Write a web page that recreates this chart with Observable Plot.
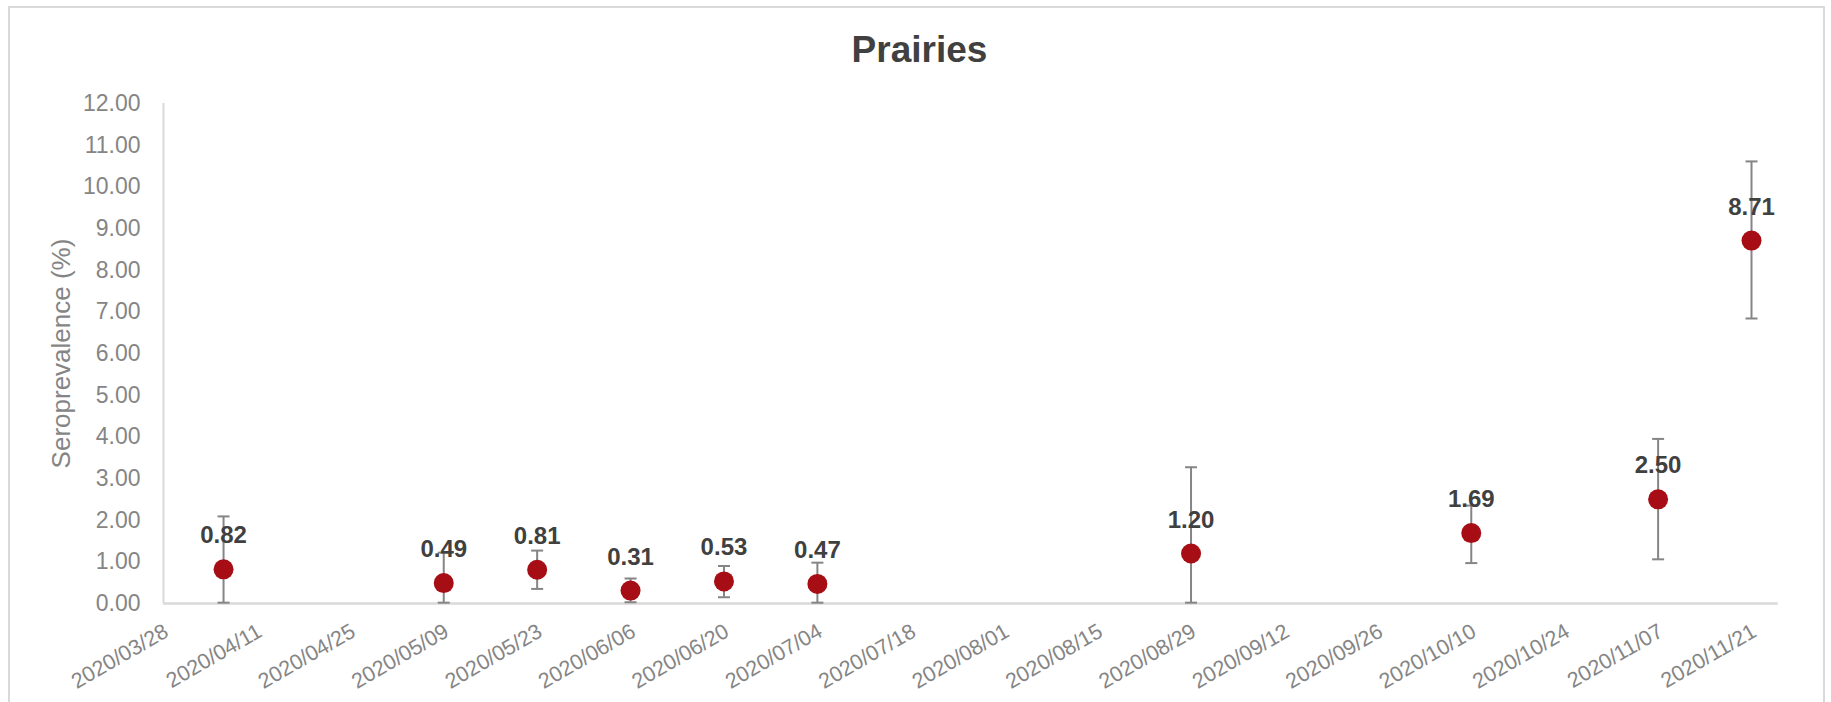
<!DOCTYPE html>
<html>
<head>
<meta charset="utf-8">
<script src="https://cdn.jsdelivr.net/npm/d3@7"></script>
<script src="https://cdn.jsdelivr.net/npm/@observablehq/plot@0.6"></script>
<style>
  html, body { margin: 0; padding: 0; background: #ffffff; }
  #chart { position: relative; width: 1831px; height: 702px; overflow: hidden; background: #ffffff; font-family: "Liberation Sans", Arial, sans-serif; }
  #frame { position: absolute; left: 8px; top: 6px; width: 1817px; height: 720px; border: 2px solid #d9d9d9; box-sizing: border-box; }
  #title { position: absolute; top: 30.5px; left: 919.5px; transform: translateX(-50%); font-size: 37px; line-height: 37px; font-weight: bold; color: #404040; white-space: nowrap; }
  #chart svg { position: absolute; left: 0; top: 0; }
</style>
</head>
<body>
<div id="chart">
  <div id="frame"></div>
  <div id="title">Prairies</div>
</div>
<script>
const title = "Prairies";
const yTitle = "Seroprevalence (%)";

const dates  = ["2020/04/06", "2020/05/09", "2020/05/23", "2020/06/06", "2020/06/20", "2020/07/04", "2020/08/29", "2020/10/10", "2020/11/07", "2020/11/21"];
const values = [0.82, 0.49, 0.81, 0.31, 0.53, 0.47, 1.20, 1.69, 2.50, 8.71];
const lower  = [0.02, 0.02, 0.35, 0.03, 0.15, 0.02, 0.02, 0.97, 1.06, 6.84];
const upper  = [2.09, 1.22, 1.27, 0.60, 0.90, 0.98, 3.27, 2.35, 3.95, 10.61];

const xTickLabels = ["2020/03/28", "2020/04/11", "2020/04/25", "2020/05/09", "2020/05/23", "2020/06/06",
  "2020/06/20", "2020/07/04", "2020/07/18", "2020/08/01", "2020/08/15", "2020/08/29",
  "2020/09/12", "2020/09/26", "2020/10/10", "2020/10/24", "2020/11/07", "2020/11/21"];
const xDomain = ["2020/03/28", "2020/11/25"];
const yTicks = [0, 1, 2, 3, 4, 5, 6, 7, 8, 9, 10, 11, 12];

const parse = d3.utcParse("%Y/%m/%d");
const fmt = d3.utcFormat("%Y/%m/%d");

const data = dates.map((d, i) => ({date: parse(d), v: values[i], lo: lower[i], hi: upper[i]}));
const xTicks = xTickLabels.map(parse);
const x0 = parse(xDomain[0]);

const capSymbol = {
  draw(context, size) {
    const w = Math.sqrt(size / Math.PI);
    context.moveTo(-w, 0);
    context.lineTo(w, 0);
  }
};

const plot = Plot.plot({
  width: 1831,
  height: 702,
  marginLeft: 163,
  marginRight: 53.3,
  marginTop: 103,
  marginBottom: 99,
  style: {fontFamily: "'Liberation Sans', Arial, sans-serif", background: "transparent", overflow: "visible"},
  x: {type: "utc", domain: xDomain.map(parse)},
  y: {domain: [0, 12]},
  marks: [
    Plot.ruleY([0], {stroke: "#d9d9d9", strokeWidth: 2.5}),
    Plot.ruleX([x0], {y1: 0, y2: 12, stroke: "#d9d9d9", strokeWidth: 2}),
    Plot.axisY({ticks: yTicks, tickFormat: d => d.toFixed(2), tickSize: 0, tickPadding: 23, fontSize: 23, fill: "#858585", label: null}),
    Plot.axisX({ticks: xTicks, tickFormat: fmt, tickSize: 0, tickPadding: 26, tickRotate: -30, dx: 3, fontSize: 21.5, fill: "#858585", label: null}),
    Plot.text([yTitle], {frameAnchor: "left", dx: -102, rotate: -90, textAnchor: "middle", lineAnchor: "middle", fontSize: 26, fill: "#858585"}),
    Plot.ruleX(data, {x: "date", y1: "lo", y2: "hi", stroke: "#858585", strokeWidth: 2}),
    Plot.dot(data, {x: "date", y: "hi", symbol: capSymbol, r: 6, stroke: "#858585", strokeWidth: 2, fill: "none"}),
    Plot.dot(data, {x: "date", y: "lo", symbol: capSymbol, r: 6, stroke: "#858585", strokeWidth: 2, fill: "none"}),
    Plot.dot(data, {x: "date", y: "v", r: 10, fill: "#a60d14", stroke: "none"}),
    Plot.text(data, {x: "date", y: "v", text: d => d.v.toFixed(2), dy: -26, lineAnchor: "bottom", fontSize: 24, fontWeight: "bold", fill: "#404040"})
  ]
});

document.getElementById("chart").appendChild(plot);
</script>
</body>
</html>
